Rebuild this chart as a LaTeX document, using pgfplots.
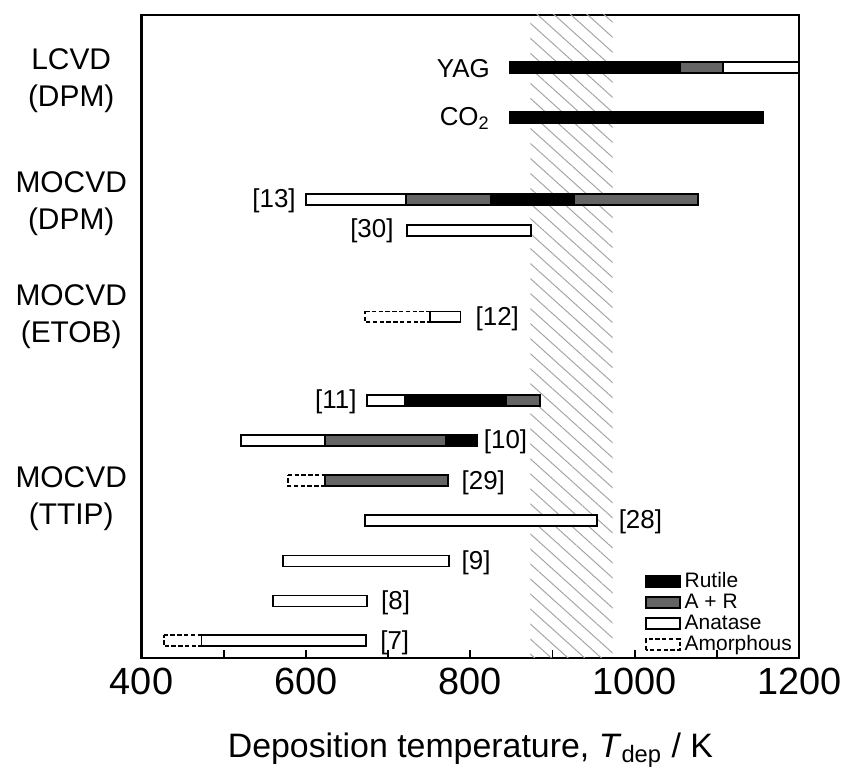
\documentclass[border=0pt]{standalone}
\usepackage{fontspec}
\setmainfont{Liberation Sans}
\usepackage{pgfplots}
\pgfplotsset{compat=1.18}
\usetikzlibrary{patterns.meta}
\definecolor{argray}{RGB}{100,100,100}
\definecolor{hatchgray}{RGB}{165,165,165}
\pgfplotsset{
  rut/.style={draw=black, line width=0.9pt, fill=black},
  ar/.style={draw=black, line width=0.9pt, fill=argray},
  ana/.style={draw=black, line width=0.9pt, fill=white},
  amo/.style={draw=black, line width=0.9pt, fill=white, dash pattern=on 2.2pt off 1.2pt},
}
\newcommand{\seg}[4]{%
  \pgfmathsetmacro\ya{#3-5.5}%
  \pgfmathsetmacro\yb{#3+5.5}%
  \edef\tmp{\noexpand\addplot[#4,forget plot] coordinates {(#1,\ya) (#2,\ya) (#2,\yb) (#1,\yb)} -- cycle;}%
  \tmp}
\newcommand{\lab}{\fontsize{13}{15}\selectfont}
\newcommand{\grp}{\fontsize{15}{18.5}\selectfont}
\begin{document}
\begin{tikzpicture}
\begin{axis}[
  name=ax, scale only axis, width=330pt, height=322.5pt,
  xmin=400, xmax=1200, ymin=15, ymax=660, y dir=reverse,
  axis line style={line width=1.1pt},
  xtick={400,500,...,1200}, xticklabels={400,,600,,800,,1000,,1200},
  ytick=\empty, xtick pos=bottom, tick align=inside,
  major tick length=4pt, tick style={line width=0.9pt, black},
  /pgf/number format/assume math mode=true,
  ticklabel style={font=\fontsize{19}{21}\selectfont},
  xticklabel style={anchor=base, yshift=-18.5pt},
  clip=false, no markers,
  xlabel={Deposition temperature, \textit{T}\textsubscript{dep} / K},
  xlabel style={font=\fontsize{17}{19}\selectfont, at={(axis description cs:0.5,0)}, anchor=base, yshift=-50pt},
  legend style={at={(axis cs:1012,570)}, anchor=north west, draw=none, fill=none,
    inner sep=0pt, row sep=-2.3pt, font=\fontsize{10.5}{12}\selectfont, cells={anchor=west}},
  legend image code/.code={\draw[#1] (-3pt,-2.75pt) rectangle (14pt,2.75pt);},
]
% hatched window
\addplot[draw=none, pattern={Lines[angle=-42, distance=5.6pt, line width=0.5pt]}, pattern color=hatchgray, forget plot]
  coordinates {(873,15) (973,15) (973,660) (873,660)} -- cycle;
% YAG
\seg{848}{1055}{68}{rut}
\seg{1055}{1107}{68}{ar}
\seg{1107}{1200}{68}{ana}
% CO2
\seg{848}{1156}{118}{rut}
% [13]
\seg{600}{722}{200}{ana}
\seg{722}{825}{200}{ar}
\seg{825}{926}{200}{rut}
\seg{926}{1077}{200}{ar}
% [30]
\seg{723}{874}{231}{ana}
% [12]
\seg{672}{751}{318}{amo}
\seg{751}{788}{318}{ana}
% [11]
\seg{674}{720}{402}{ana}
\seg{720}{844}{402}{rut}
\seg{844}{885}{402}{ar}
% [10]
\seg{521}{623}{442}{ana}
\seg{623}{770}{442}{ar}
\seg{770}{808}{442}{rut}
% [29]
\seg{578}{623}{482}{amo}
\seg{623}{773}{482}{ar}
% [28]
\seg{672}{954}{522}{ana}
% [9]
\seg{572}{774}{563}{ana}
% [8]
\seg{560}{674}{603}{ana}
% [7]
\seg{427}{473}{643}{amo}
\seg{473}{673}{643}{ana}
% legend
\addlegendimage{rut}\addlegendentry{Rutile}
\addlegendimage{ar}\addlegendentry{A + R}
\addlegendimage{ana}\addlegendentry{Anatase}
\addlegendimage{amo}\addlegendentry{Amorphous}
% bar labels
\node[anchor=east, inner sep=0pt, font=\lab] at (axis cs:824,69) {YAG};
\node[anchor=east, inner sep=0pt, font=\lab] at (axis cs:824,119) {CO\textsubscript{2}};
\node[anchor=east, inner sep=0pt, font=\lab] at (axis cs:588,201) {[13]};
\node[anchor=east, inner sep=0pt, font=\lab] at (axis cs:707,232) {[30]};
\node[anchor=west, inner sep=0pt, font=\lab] at (axis cs:806,320) {[12]};
\node[anchor=east, inner sep=0pt, font=\lab] at (axis cs:662,403) {[11]};
\node[anchor=west, inner sep=0pt, font=\lab] at (axis cs:816,443) {[10]};
\node[anchor=west, inner sep=0pt, font=\lab] at (axis cs:789,484) {[29]};
\node[anchor=west, inner sep=0pt, font=\lab] at (axis cs:980,524) {[28]};
\node[anchor=west, inner sep=0pt, font=\lab] at (axis cs:789,565) {[9]};
\node[anchor=west, inner sep=0pt, font=\lab] at (axis cs:691,605) {[8]};
\node[anchor=west, inner sep=0pt, font=\lab] at (axis cs:690,645) {[7]};
% group labels
\node[align=center, font=\grp] at (axis cs:314.5,81) {LCVD\\(DPM)};
\node[align=center, font=\grp] at (axis cs:314.5,204) {MOCVD\\(DPM)};
\node[align=center, font=\grp] at (axis cs:314.5,318) {MOCVD\\(ETOB)};
\node[align=center, font=\grp] at (axis cs:314.5,500) {MOCVD\\(TTIP)};
\end{axis}
\path (ax.north west) ++(-71pt,7.5pt);
\path (ax.south east) ++(23pt,-60pt);
\end{tikzpicture}
\end{document}
